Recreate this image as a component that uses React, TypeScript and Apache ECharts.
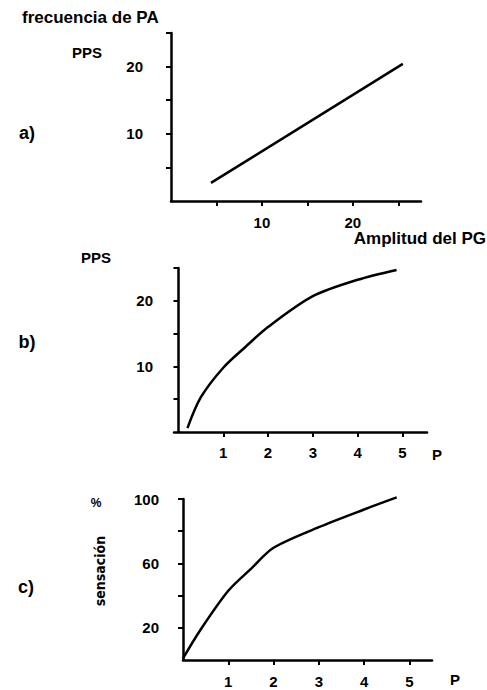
import React, { useEffect, useRef } from "react";
import * as echarts from "echarts";

// Panel a: frecuencia de PA (PPS) vs Amplitud del PG
const aX = [4.4, 25.5];
const aY = [2.7, 20.4];
// Panel b: PPS vs P
const bX = [0.2, 0.5, 1, 1.5, 2, 3, 4, 4.87];
const bY = [0.6, 5.3, 9.8, 13.0, 16.0, 20.7, 23.2, 24.7];
// Panel c: % sensación vs P
const cX = [0, 0.38, 1, 1.5, 2, 3, 4, 4.72];
const cY = [1, 18.5, 43, 56.6, 69.7, 82.5, 93.5, 101];

const aTicks = [5, 10, 15, 20, 25];
const aLabels = [10, 20];
const bXTicks = [1, 2, 3, 4, 5];
const bYTicks = [5, 10, 15, 20, 25];
const bYLabels = [10, 20];
const cXTicks = [1, 2, 3, 4, 5];
const cYTicks = [20, 40, 60, 80, 100];
const cYLabels = [20, 60, 100];

const FONT = "'Liberation Sans', Arial, sans-serif";

export default function App() {
  const ref = useRef<HTMLDivElement>(null);
  useEffect(() => {
    document.body.style.margin = "0";
    const chart = echarts.init(ref.current!, null, { renderer: "svg" });
    const axisLine = { show: true, lineStyle: { color: "#000", width: 2.5 } };
    const label = (margin: number) => ({
      color: "#000",
      fontFamily: FONT,
      fontWeight: "bold" as const,
      fontSize: 15,
      margin,
    });
    const tick = (vals: number[]) => ({
      show: true,
      length: 5,
      lineStyle: { color: "#000", width: 2 },
      customValues: vals,
    });
    const mkAxis = (gi: number, min: number, max: number, ticks: number[], labels: number[], margin: number) => ({
      type: "value",
      gridIndex: gi,
      min,
      max,
      axisLine,
      axisTick: tick(ticks),
      axisLabel: { ...label(margin), customValues: labels },
      splitLine: { show: false },
    });
    const line = (gi: number, xs: number[], ys: number[], smooth: number) => ({
      type: "line",
      xAxisIndex: gi,
      yAxisIndex: gi,
      data: xs.map((x, i) => [x, ys[i]]),
      smooth,
      showSymbol: false,
      clip: false,
      lineStyle: { color: "#000", width: 2.5 },
    });
    const txt = (text: string, x: number, y: number, opts: any = {}) => ({
      type: "text",
      x,
      y,
      rotation: opts.rotation || 0,
      style: {
        text,
        fill: "#000",
        font: `${opts.weight || "bold"} ${opts.size || 15}px ${opts.family || FONT}`,
        textAlign: opts.align || "center",
        textVerticalAlign: "middle",
      },
    });
    chart.setOption({
      animation: false,
      backgroundColor: "#fff",
      grid: [
        { left: 171, top: 33, width: 250, height: 168 },
        { left: 174, top: 268, width: 253, height: 164 },
        { left: 183, top: 499, width: 249, height: 161 },
      ],
      xAxis: [
        mkAxis(0, 0, 27.5, aTicks, aLabels, 14),
        mkAxis(1, -0.1, 5.55, bXTicks, bXTicks, 13),
        mkAxis(2, 0, 5.5, cXTicks, cXTicks, 14),
      ],
      yAxis: [
        mkAxis(0, 0, 25, aTicks, aLabels, 28),
        mkAxis(1, 0, 25, bYTicks, bYLabels, 21),
        mkAxis(2, 0, 100, cYTicks, cYLabels, 24),
      ],
      series: [line(0, aX, aY, 0), line(1, bX, bY, 0.3), line(2, cX, cY, 0.3)],
      graphic: [
        txt("frecuencia de PA", 22, 17, { align: "left", size: 17 }),
        txt("PPS", 87, 52),
        txt("a)", 27, 133, { size: 18 }),
        txt("Amplitud del PG", 486, 238, { align: "right", size: 17 }),
        txt("PPS", 96, 257),
        txt("b)", 27, 342, { size: 18 }),
        txt("P", 437, 454),
        txt("%", 96, 503, { size: 12 }),
        txt("sensación", 100, 571, {
          rotation: Math.PI / 2,
          weight: "bold",
          size: 14,
          family: "'Liberation Sans Narrow', 'DejaVu Sans Condensed', sans-serif",
        }),
        txt("c)", 26, 587, { size: 18 }),
        txt("P", 455, 679),
      ],
    });
    return () => chart.dispose();
  }, []);
  return <div ref={ref} style={{ width: 487, height: 690 }} />;
}
